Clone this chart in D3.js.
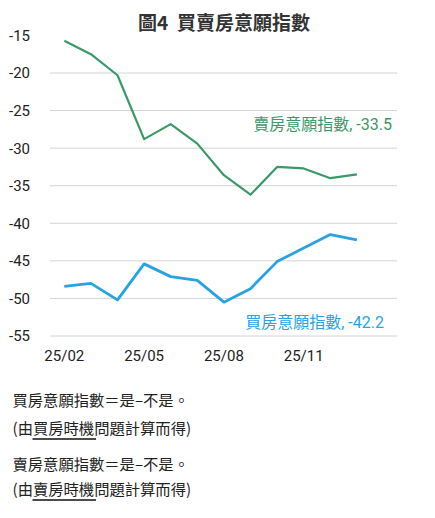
<!DOCTYPE html>
<html>
<head>
<meta charset="utf-8">
<script src="https://cdn.jsdelivr.net/npm/d3@7"></script>
<style>
  body { margin: 0; background: #fff; }
  svg { display: block; font-family: Roboto, "Noto Sans CJK TC", sans-serif; }
</style>
</head>
<body>
<svg id="chart" width="435" height="518"></svg>
<script>
// monthly index values
var months = ['25/02','25/03','25/04','25/05','25/06','25/07','25/08','25/09','25/10','25/11','25/12','26/01'];
var sellIndex = [-15.7, -17.5, -20.3, -28.8, -26.8, -29.4, -33.6, -36.2, -32.5, -32.7, -34.0, -33.5];
var buyIndex = [-48.4, -48.0, -50.2, -45.4, -47.1, -47.6, -50.5, -48.7, -45.1, -43.3, -41.5, -42.2];
var yTicks = [-15, -20, -25, -30, -35, -40, -45, -50, -55];
var xTickLabels = ['25/02', '25/05', '25/08', '25/11'];
var gridTicks = [-20, -25, -30, -35, -40, -45, -50, -55];

var svg = d3.select('#chart');

var x = d3.scalePoint()
    .domain(months)
    .range([64.3, 356.9]);

var y = d3.scaleLinear()
    .domain([-20, -55])
    .range([73, 336]);

// title
svg.append('text')
    .attr('x', 224)
    .attr('y', 30)
    .attr('text-anchor', 'middle')
    .attr('font-family', '"Noto Sans CJK TC", sans-serif')
    .attr('font-size', 19)
    .attr('font-weight', 'bold')
    .attr('fill', '#333')
    .attr('xml:space', 'preserve')
    .style('white-space', 'pre')
    .text('圖4  買賣房意願指數');

// gridlines
svg.append('g')
    .selectAll('line')
    .data(gridTicks)
    .enter()
    .append('line')
    .attr('x1', 50)
    .attr('x2', 397)
    .attr('y1', function (d) { return y(d); })
    .attr('y2', function (d) { return y(d); })
    .attr('stroke', '#d4d4d4')
    .attr('stroke-width', 1);

// y labels
svg.append('g')
    .selectAll('text')
    .data(yTicks)
    .enter()
    .append('text')
    .attr('x', 9)
    .attr('y', function (d) { return y(d); })
    .attr('dy', '0.36em')
    .attr('font-size', 15)
    .attr('fill', '#222')
    .text(function (d) { return d; });

// x labels
svg.append('g')
    .selectAll('text')
    .data(xTickLabels)
    .enter()
    .append('text')
    .attr('x', function (d) { return x(d); })
    .attr('y', 361)
    .attr('text-anchor', 'middle')
    .attr('font-size', 15)
    .attr('fill', '#222')
    .text(function (d) { return d; });

var line = d3.line()
    .x(function (d, i) { return x(months[i]); })
    .y(function (d) { return y(d); });

svg.append('path')
    .datum(sellIndex)
    .attr('d', line)
    .attr('fill', 'none')
    .attr('stroke', '#3a9a67')
    .attr('stroke-width', 2.2)
    .attr('stroke-linejoin', 'round');

svg.append('path')
    .datum(buyIndex)
    .attr('d', line)
    .attr('fill', 'none')
    .attr('stroke', '#27a3e3')
    .attr('stroke-width', 2.8)
    .attr('stroke-linejoin', 'round');

// series labels
svg.append('text')
    .attr('x', 392)
    .attr('y', 129.5)
    .attr('text-anchor', 'end')
    .attr('font-size', 16)
    .attr('fill', '#3a9a67')
    .text('賣房意願指數, ' + sellIndex[sellIndex.length - 1]);

svg.append('text')
    .attr('x', 384)
    .attr('y', 327.5)
    .attr('text-anchor', 'end')
    .attr('font-size', 16)
    .attr('fill', '#27a3e3')
    .text('買房意願指數, ' + buyIndex[buyIndex.length - 1]);

// footnotes
var notes = [
    {y: 405.5, text: '買房意願指數＝是–不是。'},
    {y: 434, text: '(由買房時機問題計算而得)', ul: [32.5, 96]},
    {y: 470, text: '賣房意願指數＝是–不是。'},
    {y: 495, text: '(由賣房時機問題計算而得)', ul: [32.5, 96]}
];

var foot = svg.append('g')
    .attr('font-family', '"Noto Sans CJK TC", sans-serif')
    .attr('font-size', 15.3)
    .attr('fill', '#222');

notes.forEach(function (n) {
    foot.append('text')
        .attr('x', 12.5)
        .attr('y', n.y)
        .text(n.text);
    if (n.ul) {
        foot.append('line')
            .attr('x1', n.ul[0])
            .attr('x2', n.ul[1])
            .attr('y1', n.y + 5)
            .attr('y2', n.y + 5)
            .attr('stroke', '#111')
            .attr('stroke-width', 1.3);
    }
});
</script>
</body>
</html>
